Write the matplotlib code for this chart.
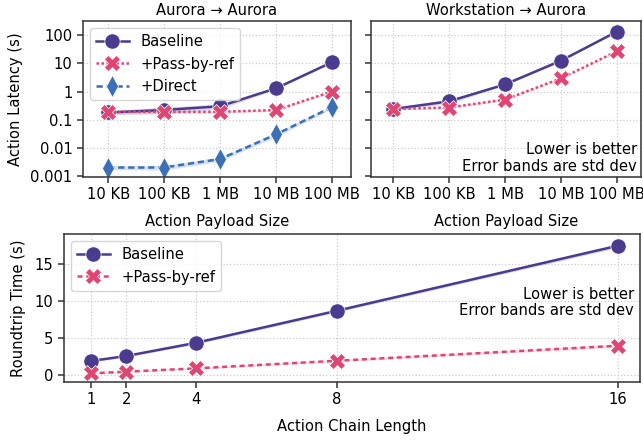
import matplotlib
matplotlib.use("Agg")
import matplotlib.pyplot as plt
import numpy as np

# Payload sweep (latency in seconds)
sizes = ["10 KB", "100 KB", "1 MB", "10 MB", "100 MB"]

aa_baseline = [0.18, 0.22, 0.30, 1.3, 11.0]
aa_baseline_std = [0.03, 0.06, 0.06, 0.1, 0.8]
aa_passref = [0.19, 0.19, 0.19, 0.22, 1.0]
aa_passref_std = [0.02, 0.02, 0.02, 0.02, 0.08]
aa_direct = [0.002, 0.002, 0.004, 0.03, 0.28]
aa_direct_std = [0.0003, 0.0004, 0.0007, 0.005, 0.04]

wa_baseline = [0.24, 0.45, 1.8, 12.5, 135.0]
wa_baseline_std = [0.02, 0.08, 0.15, 0.8, 8.0]
wa_passref = [0.24, 0.27, 0.52, 2.95, 27.0]
wa_passref_std = [0.02, 0.02, 0.04, 0.2, 1.5]

# Chain length sweep (roundtrip time in seconds)
chain = [1, 2, 4, 8, 16]
rt_baseline = [1.9, 2.57, 4.37, 8.7, 17.5]
rt_baseline_std = [0.15, 0.15, 0.2, 0.2, 0.25]
rt_passref = [0.22, 0.45, 0.9, 1.93, 3.96]
rt_passref_std = [0.1, 0.1, 0.12, 0.15, 0.2]

PURPLE = "#4b3b8f"
PINK = "#df4674"
BLUE = "#3b6fb6"
FS = 10.6

plt.rcParams.update({
    "font.family": "DejaVu Sans",
    "font.size": FS,
    "axes.edgecolor": "#333333",
    "axes.linewidth": 1.1,
    "xtick.color": "#333333",
    "ytick.color": "#333333",
    "xtick.labelcolor": "black",
    "ytick.labelcolor": "black",
})

fig = plt.figure(figsize=(6.43, 4.40), dpi=100)
ax1 = fig.add_axes([83 / 643, 1 - 177 / 440, 268 / 643, 156 / 440])
ax2 = fig.add_axes([371 / 643, 1 - 177 / 440, 270 / 643, 156 / 440])
ax3 = fig.add_axes([64 / 643, 1 - 382 / 440, 576 / 643, 148 / 440])


def draw(ax, x, y, sd, color, marker, ms, dashes, label):
    y = np.array(y)
    sd = np.array(sd)
    ax.fill_between(x, y - sd, y + sd, color=color, alpha=0.2, lw=0)
    line, = ax.plot(x, y, color=color, lw=1.8, marker=marker, ms=ms,
                    mec="white", mew=0.5, label=label)
    if dashes is not None:
        line.set_dashes(dashes)
    return line


def style(ax):
    ax.grid(True, ls=":", color="#cccccc", lw=0.9)
    ax.set_axisbelow(True)
    ax.tick_params(direction="out", length=4, width=1.1)


xpos = np.arange(len(sizes))

for ax in (ax1, ax2):
    ax.set_yscale("log")
    ax.set_ylim(0.00092, 320)
    ax.set_yticks([0.001, 0.01, 0.1, 1, 10, 100])
    ax.yaxis.set_minor_locator(matplotlib.ticker.NullLocator())
    ax.set_xticks(xpos)
    ax.set_xticklabels(sizes)
    ax.set_xlabel("Action Payload Size", labelpad=8)
    style(ax)

draw(ax1, xpos, aa_baseline, aa_baseline_std, PURPLE, "o", 11, None, "Baseline")
draw(ax1, xpos, aa_passref, aa_passref_std, PINK, "X", 11, (1, 1), "+Pass-by-ref")
draw(ax1, xpos, aa_direct, aa_direct_std, BLUE, "d", 11, (2.5, 1.5), "+Direct")
ax1.set_xlim(-0.45, 4.34)
ax1.set_yticklabels(["0.001", "0.01", "0.1", "1", "10", "100"])
ax1.set_ylabel("Action Latency (s)", labelpad=5)
ax1.set_title("Aurora \u2192 Aurora", fontsize=FS, pad=4)
ax1.legend(loc="upper left", handlelength=2.2, borderpad=0.4)

draw(ax2, xpos, wa_baseline, wa_baseline_std, PURPLE, "o", 11, None, "Baseline")
draw(ax2, xpos, wa_passref, wa_passref_std, PINK, "X", 11, (1, 1), "+Pass-by-ref")
ax2.set_xlim(-0.40, 4.43)
ax2.set_yticklabels([])
ax2.set_title("Workstation \u2192 Aurora", fontsize=FS, pad=4)
ax2.text(0.985, 0.02, "Lower is better\nError bands are std dev",
         transform=ax2.transAxes, ha="right", va="bottom", linespacing=1.15)

draw(ax3, chain, rt_baseline, rt_baseline_std, PURPLE, "o", 11, None, "Baseline")
draw(ax3, chain, rt_passref, rt_passref_std, PINK, "X", 11, (2, 1.5), "+Pass-by-ref")
ax3.set_xlim(0.23, 16.64)
ax3.set_ylim(-0.95, 19.1)
ax3.set_xticks(chain)
ax3.set_yticks([0, 5, 10, 15])
ax3.set_xlabel("Action Chain Length", labelpad=8)
ax3.set_ylabel("Roundtrip Time (s)", labelpad=6)
style(ax3)
ax3.text(0.99, 0.43, "Lower is better\nError bands are std dev",
         transform=ax3.transAxes, ha="right", va="bottom", linespacing=1.15)
ax3.legend(loc="upper left", handlelength=2.2, borderpad=0.4)

fig.savefig("out.png", dpi=100)
